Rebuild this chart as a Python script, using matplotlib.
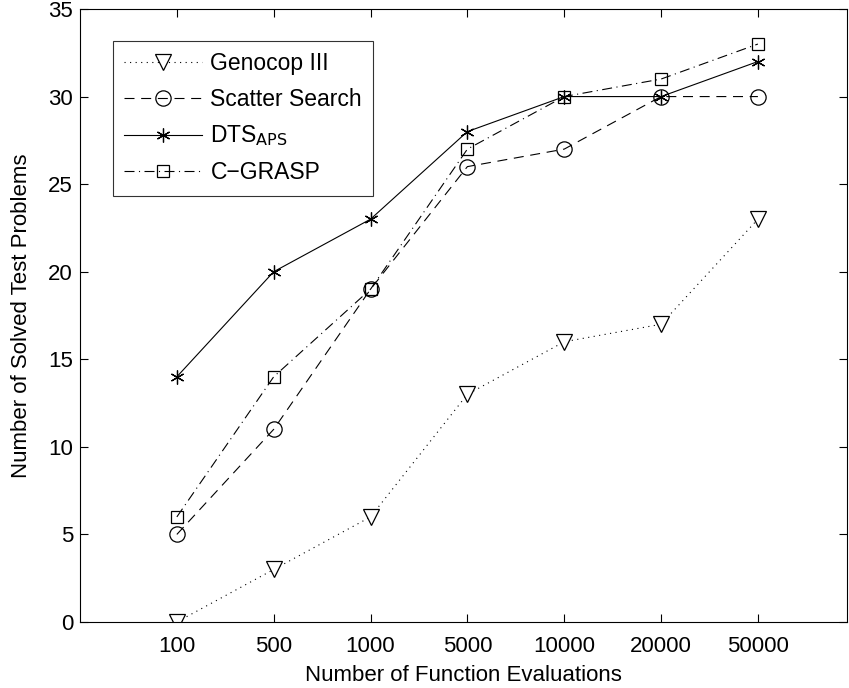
import matplotlib
matplotlib.use("Agg")
import matplotlib.pyplot as plt

categories = ["100", "500", "1000", "5000", "10000", "20000", "50000"]
genocop = [0, 3, 6, 13, 16, 17, 23]
scatter = [5, 11, 19, 26, 27, 30, 30]
dts = [14, 20, 23, 28, 30, 30, 32]
cgrasp = [6, 14, 19, 27, 30, 31, 33]

plt.rcParams['font.family'] = ['Liberation Sans', 'DejaVu Sans']

fig = plt.figure(figsize=(8.49, 6.88), dpi=100)
ax = fig.add_axes([80/849, 66/688, 767/849, 613/688])

x = list(range(1, len(categories) + 1))
lw = 0.8
ax.plot(x, genocop, linestyle=(0, (1, 4)), color='k', lw=lw, marker='v',
        markersize=11, markerfacecolor='white', markeredgewidth=0.9, label='Genocop III')
ax.plot(x, scatter, linestyle=(0, (9, 6)), color='k', lw=lw, marker='o',
        markersize=11, markerfacecolor='none', markeredgewidth=0.9, label='Scatter Search')
ax.plot(x, dts, linestyle='-', color='k', lw=lw, marker=(6, 2, 0),
        markersize=10, markeredgewidth=0.9, label=r'DTS$_{\mathrm{APS}}$')
ax.plot(x, cgrasp, linestyle=(0, (9, 4, 1, 4)), color='k', lw=lw, marker='s',
        markersize=8, markerfacecolor='none', markeredgewidth=0.9, label='C\u2212GRASP')

ax.set_xlim(0, 7.92)
ax.set_ylim(0, 35)
ax.set_xticks(x)
ax.set_xticklabels(categories)
ax.set_yticks(range(0, 36, 5))
ax.tick_params(direction='in', top=True, right=True, labelsize=16, length=6, width=0.8)
ax.tick_params(axis='x', pad=10)
ax.tick_params(axis='y', pad=5)
for s in ax.spines.values():
    s.set_linewidth(0.8)
ax.set_xlabel('Number of Function Evaluations', fontsize=16, labelpad=6)
ax.set_ylabel('Number of Solved Test Problems', fontsize=16, labelpad=12)

leg = ax.legend(loc='upper left', bbox_to_anchor=(0.043, 0.948), borderaxespad=0,
                fontsize=16.5, frameon=True, fancybox=False, edgecolor='k',
                handlelength=3.4, borderpad=0.5, labelspacing=0.55, handletextpad=0.35)
leg.get_frame().set_linewidth(0.8)

fig.savefig('out.png', dpi=100)
